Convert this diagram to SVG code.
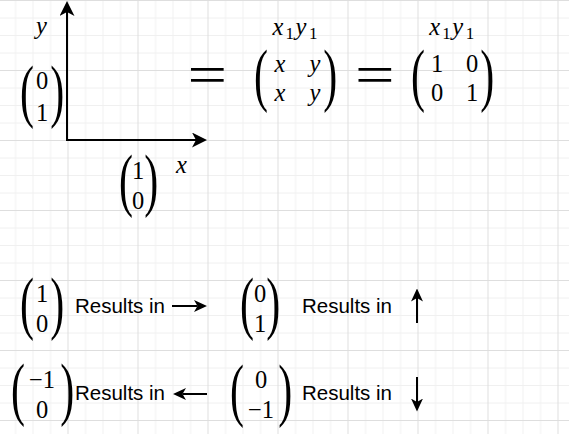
<svg xmlns="http://www.w3.org/2000/svg" width="569" height="434" viewBox="0 0 569 434">
<style>
.m{font-family:"Liberation Serif","Times New Roman",serif;font-size:24.5px;fill:#000}
.i{font-style:italic}
.s{font-size:17px}
.p{font-family:"Liberation Serif","Times New Roman",serif;font-size:70px;fill:#000}
.t{font-family:"Liberation Sans",Arial,sans-serif;font-size:20.5px;fill:#000}
.ln{stroke:#000;stroke-width:2;fill:none}
</style>
<defs>
<pattern id="grid" patternUnits="userSpaceOnUse" x="-2.5" y="0" width="70" height="70">
<path d="M18,0V70M35.5,0V70M53,0V70M0,18H70M0,35.5H70M0,53H70" stroke="#f0f0f0" stroke-width="1" fill="none"/>
<path d="M0.5,0V70M0,0.5H70" stroke="#dedede" stroke-width="1" fill="none"/>
</pattern>
<marker id="big" markerUnits="userSpaceOnUse" viewBox="0 0 15 15" markerWidth="15" markerHeight="15" refX="4" refY="7.5" orient="auto">
<path d="M0,0L15,7.5L0,15L4,7.5Z" fill="#000"/>
</marker>
<marker id="sm" markerUnits="userSpaceOnUse" viewBox="0 0 13 12" markerWidth="13" markerHeight="12" refX="3.5" refY="6" orient="auto">
<path d="M0,0L13,6L0,12L3.5,6Z" fill="#000"/>
</marker>
</defs>
<rect width="569" height="434" fill="#fff"/>
<rect width="569" height="434" fill="url(#grid)"/>

<g id="connectors">
<path class="ln" d="M67,141V12" marker-end="url(#big)"/>
<path class="ln" d="M66,140H196" marker-end="url(#big)"/>
<path class="ln" d="M172,306H197.5" marker-end="url(#sm)"/>
<path class="ln" d="M417,323V298" marker-end="url(#sm)"/>
<path class="ln" d="M207,394H182.5" marker-end="url(#sm)"/>
<path class="ln" d="M417,377V402" marker-end="url(#sm)"/>
</g>

<g id="label-y"><text class="m i" x="36" y="34">y</text></g>
<g id="label-x"><text class="m i" x="176" y="173">x</text></g>

<g id="vec-top-01">
<text class="p" transform="translate(20,113.5) scale(0.6,1)">(</text>
<text class="p" transform="translate(50.2,113.5) scale(0.6,1)">)</text>
<text class="m" x="42" y="89" text-anchor="middle">0</text>
<text class="m" x="42" y="120.5" text-anchor="middle">1</text>
</g>

<g id="vec-x-10">
<text class="p" transform="translate(119,202.5) scale(0.6,1)">(</text>
<text class="p" transform="translate(144.2,202.5) scale(0.6,1)">)</text>
<text class="m" x="138" y="179" text-anchor="middle">1</text>
<text class="m" x="138" y="208.5" text-anchor="middle">0</text>
</g>

<g id="eq1"><text class="p" style="font-size:54px" transform="translate(187.6,92.7) scale(1.3,1)">=</text></g>

<g id="matrix-xy">
<text class="m i" x="272.5" y="35">x</text><text class="m s" x="285.5" y="38.5">1</text>
<text class="m i" x="295.5" y="35">y</text><text class="m s" x="309" y="38.5">1</text>
<text class="p" transform="translate(254,97.7) scale(0.6,1)">(</text>
<text class="p" transform="translate(323.2,97.7) scale(0.6,1)">)</text>
<text class="m i" x="280" y="72" text-anchor="middle">x</text>
<text class="m i" x="315" y="72" text-anchor="middle">y</text>
<text class="m i" x="280" y="100.5" text-anchor="middle">x</text>
<text class="m i" x="315" y="100.5" text-anchor="middle">y</text>
</g>

<g id="eq2"><text class="p" style="font-size:54px" transform="translate(355,92.7) scale(1.3,1)">=</text></g>

<g id="matrix-id">
<text class="m i" x="429.2" y="35">x</text><text class="m s" x="442.2" y="38.5">1</text>
<text class="m i" x="452.2" y="35">y</text><text class="m s" x="465.7" y="38.5">1</text>
<text class="p" transform="translate(411,97.7) scale(0.6,1)">(</text>
<text class="p" transform="translate(480.2,97.7) scale(0.6,1)">)</text>
<text class="m" x="437" y="72" text-anchor="middle">1</text>
<text class="m" x="472" y="72" text-anchor="middle">0</text>
<text class="m" x="437" y="100.5" text-anchor="middle">0</text>
<text class="m" x="472" y="100.5" text-anchor="middle">1</text>
</g>

<g id="vec-r1-10">
<text class="p" transform="translate(20,326) scale(0.6,1)">(</text>
<text class="p" transform="translate(50.2,326) scale(0.6,1)">)</text>
<text class="m" x="42" y="301.5" text-anchor="middle">1</text>
<text class="m" x="42" y="331.5" text-anchor="middle">0</text>
</g>
<g id="text-r1a"><text class="t" x="75" y="313">Results in</text></g>

<g id="vec-r1-01">
<text class="p" transform="translate(240,326) scale(0.6,1)">(</text>
<text class="p" transform="translate(266.2,326) scale(0.6,1)">)</text>
<text class="m" x="260" y="301.5" text-anchor="middle">0</text>
<text class="m" x="260" y="331.5" text-anchor="middle">1</text>
</g>
<g id="text-r1b"><text class="t" x="302" y="313">Results in</text></g>

<g id="vec-r2-m10">
<text class="p" transform="translate(11,412) scale(0.6,1)">(</text>
<text class="p" transform="translate(60.2,412) scale(0.6,1)">)</text>
<text class="m" x="42" y="387.5" text-anchor="middle">−1</text>
<text class="m" x="42" y="417.5" text-anchor="middle">0</text>
</g>
<g id="text-r2a"><text class="t" x="75" y="400">Results in</text></g>

<g id="vec-r2-0m1">
<text class="p" transform="translate(230,412.5) scale(0.6,1)">(</text>
<text class="p" transform="translate(278.2,412.5) scale(0.6,1)">)</text>
<text class="m" x="261" y="388" text-anchor="middle">0</text>
<text class="m" x="261" y="418" text-anchor="middle">−1</text>
</g>
<g id="text-r2b"><text class="t" x="302" y="400">Results in</text></g>
</svg>
